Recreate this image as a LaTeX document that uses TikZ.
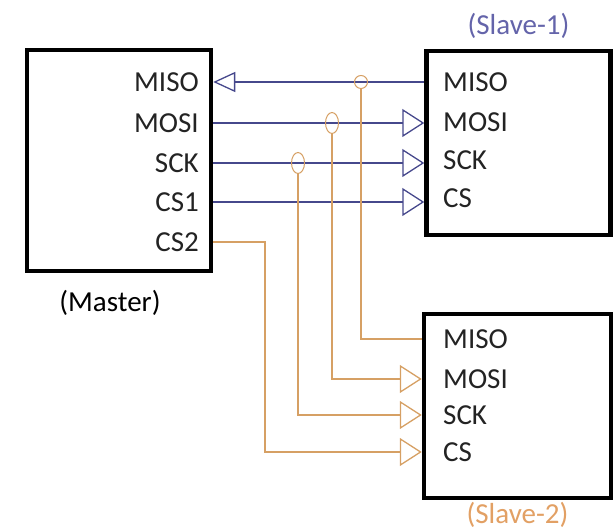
\documentclass[tikz,border=0pt]{standalone}
\usepackage{fontspec}
\setmainfont{Carlito}
\usetikzlibrary{arrows.meta, positioning, shapes.geometric}
\definecolor{busblue}{RGB}{70,72,140}
\definecolor{selorange}{RGB}{214,160,100}
\definecolor{slaveblue}{RGB}{100,100,170}
\definecolor{slaveorange}{RGB}{226,160,100}
\definecolor{pintext}{RGB}{35,35,35}

\begin{document}
\begin{tikzpicture}[
    x=1pt, y=1pt,
    box/.style={draw, line width=4.5pt, minimum width=184pt, minimum height=184pt, inner sep=0pt},
    pin/.style={font=\fontsize{29}{31}\selectfont, text=pintext, inner sep=0pt},
    caption/.style={font=\fontsize{29}{31}\selectfont, inner sep=0pt},
    bus/.style={draw=busblue, line width=1.3pt},
    sel/.style={draw=selorange, line width=1.3pt},
    tap/.style={ellipse, draw=selorange, line width=1pt, minimum width=13pt, minimum height=21pt, inner sep=0pt},
    >={Triangle[open, length=22pt, width=28pt]}
]
    \useasboundingbox (0,0) rectangle (615,532);

    % boxes
    \node[box, minimum height=221pt] (master) at (119,371.5) {};
    \node[box] (slaveA) at (518.5,389) {};
    \node[box, minimum width=187pt] (slaveB) at (517.5,126) {};

    \node[caption, below=17pt of master, xshift=-9pt] {(Master)};
    \node[caption, text=slaveblue, above=10pt of slaveA] {(Slave-1)};
    \node[caption, text=slaveorange, below=2pt of slaveB] {(Slave-2)};

    % pins
    \node[pin, anchor=east] (mmiso) at (199,450) {MISO};
    \node[pin, anchor=east] (mmosi) at (199,409) {MOSI};
    \node[pin, anchor=east] (msck) at (199,369) {SCK};
    \node[pin, anchor=east] (mcsa) at (199,330) {CS1};
    \node[pin, anchor=east] (mcsb) at (199,290) {CS2};

    \node[pin, anchor=west] (amiso) at (443,450) {MISO};
    \node[pin, anchor=west] (amosi) at (443,410) {MOSI};
    \node[pin, anchor=west] (asck) at (443,372) {SCK};
    \node[pin, anchor=west] (acs) at (443,334) {CS};

    \node[pin, anchor=west] (bmiso) at (443,193) {MISO};
    \node[pin, anchor=west] (bmosi) at (443,153) {MOSI};
    \node[pin, anchor=west] (bsck) at (443,117) {SCK};
    \node[pin, anchor=west] (bcs) at (443,80) {CS};

    % slave-1 bus
    \draw[bus, {Triangle[open, length=22pt, width=20pt]}-] (mmiso -| master.east) -- (mmiso -| slaveA.west);
    \draw[bus, ->] (mmosi -| master.east) -- (mmosi -| slaveA.west);
    \draw[bus, ->] (msck -| master.east) -- (msck -| slaveA.west);
    \draw[bus, ->] (mcsa -| master.east) -- (mcsa -| slaveA.west);

    % taps to slave-2
    \node[tap, minimum height=13pt] (tmiso) at (361,450) {};
    \node[tap] (tmosi) at (332,409) {};
    \node[tap] (tsck) at (298,369) {};
    \coordinate (bend) at (265,290);

    \draw[sel] (tmiso) |- (bmiso.west -| slaveB.west);
    \draw[sel, ->] (tmosi) |- (bmosi.west -| slaveB.west);
    \draw[sel, ->] (tsck) |- (bsck.west -| slaveB.west);
    \draw[sel, ->] (mcsb -| master.east) -- (bend) |- (bcs.west -| slaveB.west);
\end{tikzpicture}
\end{document}
